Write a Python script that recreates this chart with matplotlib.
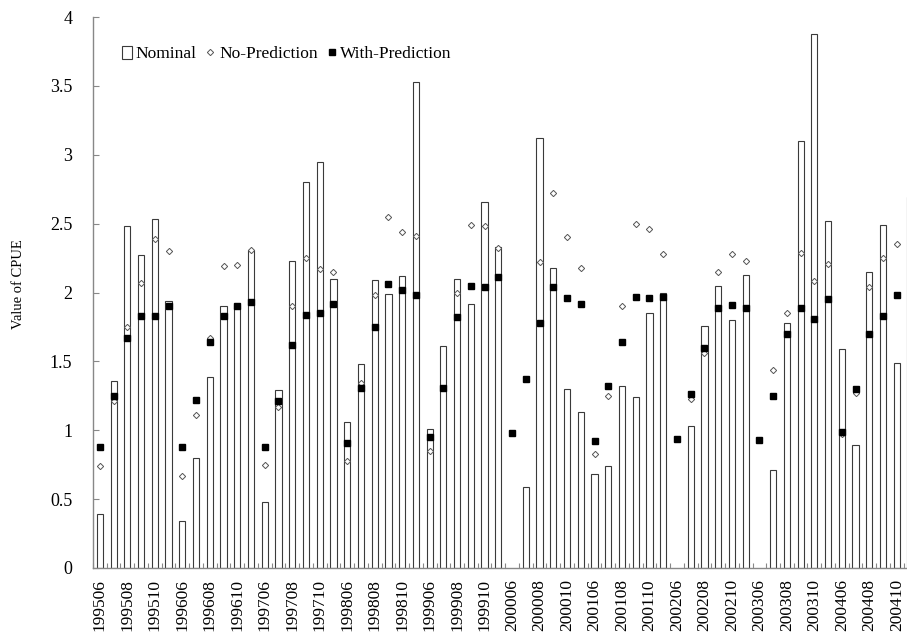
import matplotlib.pyplot as plt
import numpy as np

years = [str(y) for y in range(1995, 2005)]
months = ['06', '07', '08', '09', '10', '11']
periods = [y + m for y in years for m in months]

# nominal CPUE (bars), 0 = no bar drawn
nominal = [0.39, 1.36, 2.48, 2.27, 2.53, 1.94,
           0.34, 0.80, 1.39, 1.90, 1.91, 2.31,
           0.48, 1.29, 2.23, 2.80, 2.95, 2.10,
           1.06, 1.48, 2.09, 1.99, 2.12, 3.53,
           1.01, 1.61, 2.10, 1.92, 2.66, 2.33,
           0.00, 0.59, 3.12, 2.18, 1.30, 1.13,
           0.68, 0.74, 1.32, 1.24, 1.85, 2.00,
           0.00, 1.03, 1.76, 2.05, 1.80, 2.13,
           0.00, 0.71, 1.78, 3.10, 3.88, 2.52,
           1.59, 0.89, 2.15, 2.49, 1.49, 2.69]

no_pred = [0.74, 1.21, 1.75, 2.07, 2.39, 2.30,
           0.67, 1.11, 1.67, 2.19, 2.20, 2.31,
           0.75, 1.17, 1.90, 2.25, 2.17, 2.15,
           0.78, 1.34, 1.98, 2.55, 2.44, 2.41,
           0.85, 1.31, 2.00, 2.49, 2.48, 2.32,
           np.nan, np.nan, 2.22, 2.72, 2.40, 2.18,
           0.83, 1.25, 1.90, 2.50, 2.46, 2.28,
           np.nan, 1.23, 1.56, 2.15, 2.28, 2.23,
           np.nan, 1.44, 1.85, 2.29, 2.08, 2.21,
           0.97, 1.27, 2.04, 2.25, 2.35, np.nan]

with_pred = [0.88, 1.25, 1.67, 1.83, 1.83, 1.90,
             0.88, 1.22, 1.64, 1.83, 1.90, 1.93,
             0.88, 1.21, 1.62, 1.84, 1.85, 1.92,
             0.91, 1.31, 1.75, 2.06, 2.02, 1.98,
             0.95, 1.31, 1.82, 2.05, 2.04, 2.11,
             0.98, 1.37, 1.78, 2.04, 1.96, 1.92,
             0.92, 1.32, 1.64, 1.97, 1.96, 1.97,
             0.94, 1.26, 1.60, 1.89, 1.91, 1.89,
             0.93, 1.25, 1.70, 1.89, 1.81, 1.95,
             0.99, 1.30, 1.70, 1.83, 1.98, np.nan]

plt.rcParams['font.family'] = ['Liberation Serif', 'DejaVu Serif']

fig = plt.figure(figsize=(9.07, 6.35), dpi=100)
ax = fig.add_axes([93 / 907, 67 / 635, 824.4 / 907, 551 / 635])

x = np.arange(len(periods))
nom = np.array(nominal)
show = nom > 0
bars = ax.bar(x[show], nom[show], width=0.45, color='white', edgecolor='#3a3a3a',
              linewidth=0.8, label='Nominal')
np_line, = ax.plot(x, no_pred, 'D', ms=3.2, mfc='white', mec='#555555', mew=0.7,
                   linestyle='none', label='No-Prediction')
wp_line, = ax.plot(x, with_pred, 's', ms=4.6, color='black', linestyle='none',
                   label='With-Prediction')

ax.set_xlim(-0.5, len(periods) - 0.5)
ax.set_ylim(0, 4)
ax.set_yticks(np.arange(0, 4.01, 0.5))
ax.set_yticklabels(['0', '0.5', '1', '1.5', '2', '2.5', '3', '3.5', '4'])

ax.set_xticks(x[::2])
ax.set_xticklabels(periods[::2], rotation=90)
ax.set_xticks(np.arange(-0.5, len(periods), 1), minor=True)
ax.tick_params(axis='x', which='major', length=0, pad=8, labelsize=12.5)
ax.tick_params(axis='x', which='minor', direction='in', length=3.5,
               color='#888888', width=0.8)
ax.tick_params(axis='y', direction='in', length=4, pad=15, labelsize=13,
               color='#888888', width=0.8)

for s in ['top', 'right']:
    ax.spines[s].set_visible(False)
for s in ['left', 'bottom']:
    ax.spines[s].set_color('#888888')
    ax.spines[s].set_linewidth(1)

ax.set_ylabel('Value of CPUE', fontsize=10.5)
ax.yaxis.set_label_coords(-0.082, 0.515)

ax.legend([bars, np_line, wp_line], ['Nominal', 'No-Prediction', 'With-Prediction'],
          loc='upper left', bbox_to_anchor=(113 / 907, 1 - 37 / 635),
          bbox_transform=fig.transFigure, ncol=3, frameon=False,
          fontsize=12.5, handlelength=0.6, handleheight=0.8,
          handletextpad=0.2, columnspacing=0.5, borderpad=0)

fig.savefig('out.png', dpi=100)
